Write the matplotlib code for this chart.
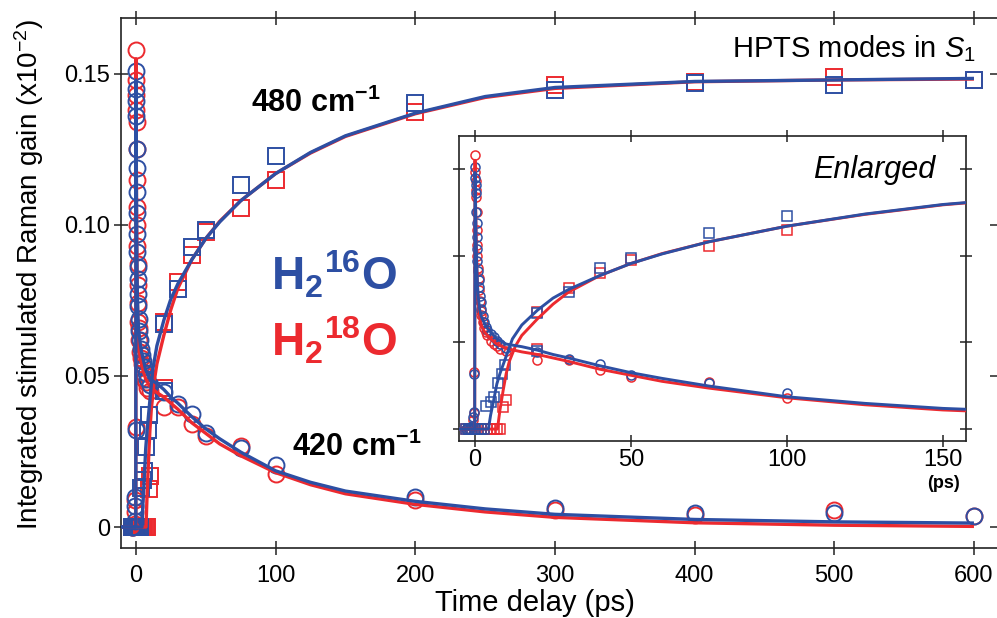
import matplotlib
matplotlib.use("Agg")
import matplotlib.pyplot as plt

plt.rcParams['font.family'] = ['Liberation Sans', 'DejaVu Sans']
plt.rcParams['mathtext.fontset'] = 'custom'
plt.rcParams['mathtext.rm'] = 'Liberation Sans'
plt.rcParams['mathtext.it'] = 'Liberation Sans:italic'
plt.rcParams['mathtext.bf'] = 'Liberation Sans:bold'

RED = '#EC2A2F'
BLUE = '#2D4FA3'

# ---------------- data: 420 cm-1 mode (circles) ----------------
t_c_blue = [-3, -2, -1, -0.6, -0.4, -0.2, 0, 0.1, 0.2, 0.3, 0.4, 0.5, 0.6, 0.7, 0.8,
            1.0, 1.2, 1.4, 1.6, 1.8, 2.0, 2.5, 3, 3.5, 4, 5, 6, 7, 8, 10,
            20, 30, 40, 50, 75, 100, 200, 300, 400, 500, 600]
c_blue = [0, 0, 0.002, 0.007, 0.010, 0.032, 0.151, 0.145, 0.141, 0.136, 0.125, 0.119,
          0.111, 0.104, 0.097, 0.091, 0.086, 0.082, 0.077, 0.073, 0.069, 0.065, 0.062,
          0.059, 0.057, 0.055, 0.053, 0.051, 0.049, 0.047,
          0.0446, 0.0406, 0.0373, 0.0311, 0.0263, 0.0206, 0.0099, 0.0063, 0.0046, 0.0046, 0.0036]

t_c_red = [-3, -2, -1, -0.6, -0.4, -0.2, 0, 0.1, 0.2, 0.3, 0.4, 0.5, 0.6, 0.7, 0.8,
           1.0, 1.2, 1.4, 1.6, 1.8, 2.0, 2.5, 3, 3.5, 4, 5, 6, 7, 8, 10,
           20, 30, 40, 50, 75, 100, 200, 300, 400, 500, 600]
c_red = [0, 0, 0.001, 0.005, 0.009, 0.033, 0.158, 0.148, 0.143, 0.138, 0.134, 0.125,
         0.115, 0.106, 0.100, 0.093, 0.087, 0.080, 0.074, 0.068, 0.066, 0.062, 0.058,
         0.056, 0.054, 0.051, 0.049, 0.048, 0.046, 0.045,
         0.0398, 0.0398, 0.0340, 0.0302, 0.0269, 0.0177, 0.0089, 0.0056, 0.0040, 0.0056, 0.0036]

# ---------------- data: 480 cm-1 mode (squares) ----------------
t_s_blue = [-3, -2, -1, 0, 1, 2, 3, 3.5, 5, 6, 7.5, 8.5, 9.5,
            20, 20, 30, 40, 50, 75, 100, 200, 300, 400, 500, 600]
s_blue = [0, 0, 0, 0, 0, 0, 0, 0.013, 0.0157, 0.0186, 0.0265, 0.032, 0.037,
          0.045, 0.0671, 0.0788, 0.0927, 0.0984, 0.1132, 0.1228, 0.1404, 0.1447, 0.147, 0.1464, 0.148]

t_s_red = [-3, -2, -1, 0, 1, 2, 3, 4, 5, 6, 7, 8, 9, 10,
           20, 20, 30, 40, 50, 75, 100, 200, 300, 400, 500, 600]
s_red = [0, 0, 0, 0, 0, 0, 0, 0, 0, 0, 0, 0, 0.0125, 0.017,
         0.046, 0.0677, 0.0811, 0.0902, 0.0975, 0.1055, 0.1148, 0.1374, 0.1464, 0.1473, 0.149, 0.148]

# ---------------- fitted curves ----------------
t_f420 = [-12, -0.1, 0, 0.2, 0.4, 0.6, 0.8, 1.0, 1.5, 2, 3, 4, 5, 7, 10, 15, 20, 25, 30,
          40, 50, 60, 75, 100, 125, 150, 200, 250, 300, 400, 500, 600]
f420_blue = [0, 0, 0.148, 0.125, 0.105, 0.092, 0.083, 0.077, 0.069, 0.065, 0.061, 0.058,
             0.056, 0.052, 0.049, 0.0475, 0.0455, 0.043, 0.041, 0.0365, 0.0325, 0.0292,
             0.0248, 0.0186, 0.0148, 0.0119, 0.0085, 0.0060, 0.0042, 0.0025, 0.0017, 0.0013]
f420_red = [0, 0, 0.155, 0.130, 0.108, 0.093, 0.082, 0.075, 0.065, 0.060, 0.056, 0.054,
            0.052, 0.049, 0.0465, 0.0445, 0.043, 0.041, 0.039, 0.0345, 0.031, 0.0275,
            0.0236, 0.018, 0.014, 0.011, 0.0075, 0.0050, 0.0032, 0.0014, 0.0006, 0.0002]

t_f480_blue = [-12, 4.3, 5, 6, 7, 8, 10, 12, 15, 20, 25, 30, 40, 50, 60, 75, 100, 125,
               150, 200, 250, 300, 400, 500, 600]
f480_blue = [0, 0, 0.008, 0.0167, 0.026, 0.032, 0.042, 0.052, 0.060, 0.0685, 0.0755,
             0.0805, 0.0885, 0.0955, 0.101, 0.108, 0.117, 0.124, 0.1295, 0.137, 0.1425,
             0.1455, 0.1475, 0.148, 0.1485]
t_f480_red = [-12, 7.2, 8, 9, 10, 11, 13, 15, 20, 25, 30, 40, 50, 60, 75, 100, 125,
              150, 200, 250, 300, 400, 500, 600]
f480_red = [0, 0, 0.011, 0.022, 0.032, 0.039, 0.048, 0.054, 0.0635, 0.072, 0.079,
            0.0885, 0.0955, 0.1012, 0.108, 0.117, 0.1238, 0.1293, 0.1368, 0.1422,
            0.1452, 0.1474, 0.148, 0.1483]

main_xticks = [0, 100, 200, 300, 400, 500, 600]
main_yticks = [0, 0.05, 0.10, 0.15]
main_yticklabels = ['0', '0.05', '0.10', '0.15']
inset_xticks = [0, 50, 100, 150]

fig = plt.figure(figsize=(9.97, 6.18), dpi=100)
W, H = 997, 618


def axes_px(l, t, r, b):
    return fig.add_axes([l / W, 1 - b / H, (r - l) / W, (b - t) / H])


def ftext(x, y, s, **kw):
    return fig.text(x / W, 1 - y / H, s, **kw)


SPINE = '#222222'


def draw(ax, ms_c, ms_s, mew, lw):
    ax.plot(t_f420, f420_red, color=RED, lw=lw, zorder=3, solid_capstyle='butt')
    ax.plot(t_f480_red, f480_red, color=RED, lw=lw, zorder=3, solid_capstyle='butt')
    ax.plot(t_c_red, c_red, 'o', mfc='none', mec=RED, ms=ms_c, mew=mew, zorder=2)
    ax.plot(t_s_red, s_red, 's', mfc='none', mec=RED, ms=ms_s, mew=mew, zorder=2)
    ax.plot(t_c_blue, c_blue, 'o', mfc='none', mec=BLUE, ms=ms_c, mew=mew, zorder=2.5)
    ax.plot(t_s_blue, s_blue, 's', mfc='none', mec=BLUE, ms=ms_s, mew=mew, zorder=2.5)
    ax.plot(t_f420, f420_blue, color=BLUE, lw=lw, zorder=4, solid_capstyle='butt')
    ax.plot(t_f480_blue, f480_blue, color=BLUE, lw=lw, zorder=4, solid_capstyle='butt')


# ---------------- main axes ----------------
ax = axes_px(121, 18, 997, 548)
draw(ax, 11.5, 12, 1.4, 2.4)
ax.set_xlim(-10.7, 616.5)
ax.set_ylim(-0.00695, 0.1685)
ax.set_xticks(main_xticks)
ax.set_yticks(main_yticks)
ax.set_yticklabels(main_yticklabels)
ax.spines['right'].set_visible(False)
for s in ['left', 'top', 'bottom']:
    ax.spines[s].set_linewidth(1.2)
    ax.spines[s].set_color(SPINE)
ax.tick_params(axis='both', which='both', direction='inout', length=10, width=1.1,
               color=SPINE, top=True, right=True, labelsize=17)
ax.tick_params(axis='x', pad=7)
ax.tick_params(axis='y', pad=3)

ftext(535, 603, 'Time delay (ps)', fontsize=21, ha='center', va='center')
ftext(29, 275, 'Integrated stimulated Raman gain (x10$^{-2}$)', fontsize=20,
      rotation=90, ha='center', va='center')

ftext(251, 112, r'480 cm$^{\mathbf{-1}}$', fontsize=22, fontweight='bold',
      va='baseline', ha='left')
ftext(292, 456, r'420 cm$^{\mathbf{-1}}$', fontsize=22, fontweight='bold',
      va='baseline', ha='left')
ftext(271, 290, r'H$_{\mathbf{2}}$$^{\mathbf{16}}$O', fontsize=33, fontweight='bold',
      color=BLUE, va='baseline', ha='left')
ftext(271, 356, r'H$_{\mathbf{2}}$$^{\mathbf{18}}$O', fontsize=33, fontweight='bold',
      color=RED, va='baseline', ha='left')
ftext(976, 57, r'HPTS modes in $\mathit{S}_{\mathit{1}}$', fontsize=21,
      ha='right', va='baseline')

# ---------------- inset ----------------
ax2 = axes_px(459, 136, 966, 441)
ax2.set_facecolor('white')
draw(ax2, 6.5, 7, 1.1, 2.1)
ax2.set_xlim(-5.13, 157.4)
ax2.set_ylim(-0.0069, 0.169)
ax2.set_xticks(inset_xticks)
ax2.set_yticks(main_yticks)
ax2.set_yticklabels([])
for s in ax2.spines.values():
    s.set_linewidth(1.2)
    s.set_color(SPINE)
ax2.tick_params(axis='both', which='both', direction='inout', length=8, width=1.1,
                color=SPINE, top=True, right=True, labelsize=17, pad=2)
ftext(935, 178, 'Enlarged', fontsize=22, style='italic', ha='right', va='baseline')
ftext(943, 484, '(ps)', fontsize=13, fontweight='bold', ha='center', va='center')

fig.savefig('out.png', dpi=100)
